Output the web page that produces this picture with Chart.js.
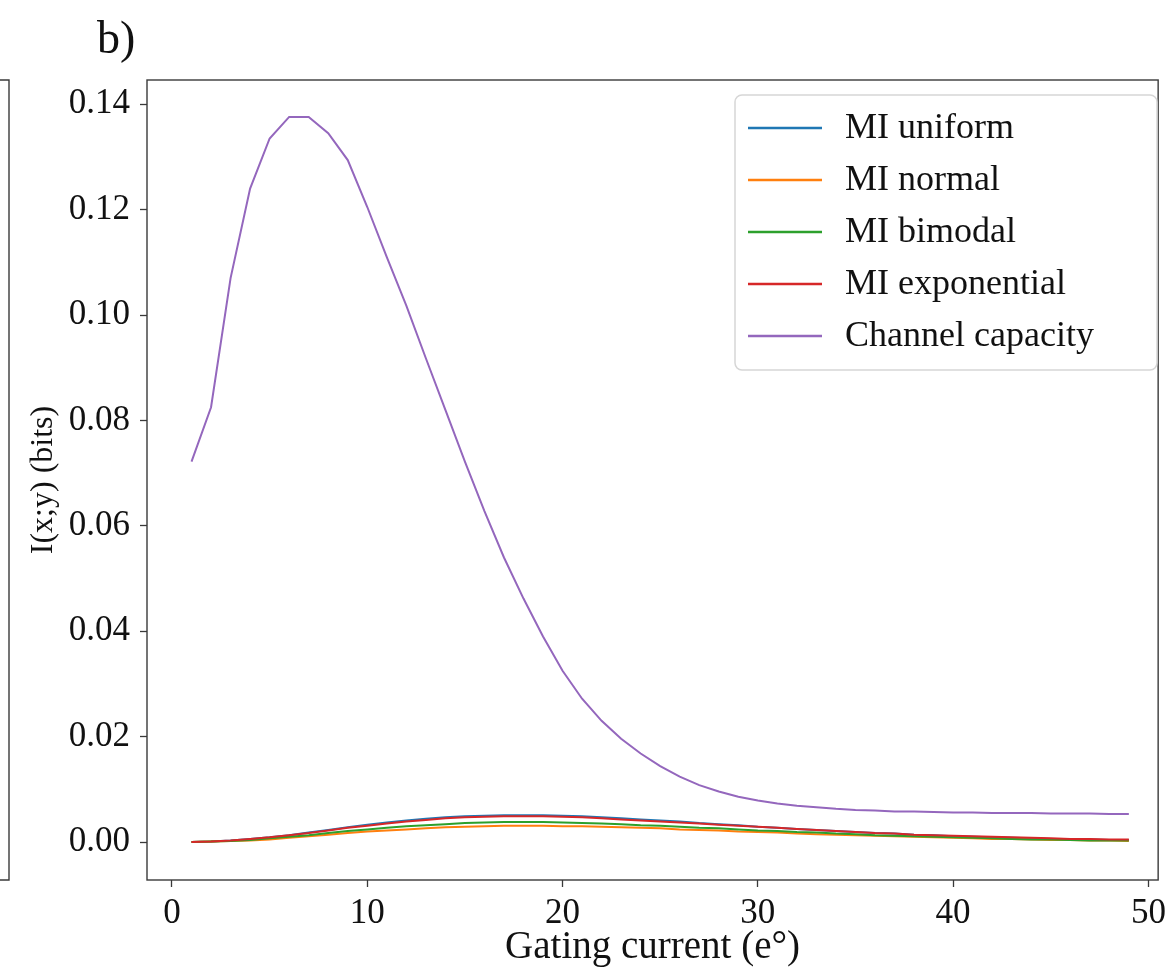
<!DOCTYPE html>
<html>
<head>
<meta charset="utf-8">
<script src="https://cdn.jsdelivr.net/npm/chart.js@4.4.1/dist/chart.umd.min.js"></script>
<style>
  html, body { margin: 0; padding: 0; background: #fff; }
  #wrap { width: 1172px; height: 973px; }
</style>
</head>
<body>
<div id="wrap"><canvas id="miChart"></canvas></div>
<script>
// gating current, e° (x values)
const gatingCurrent = [];
for (let g = 1; g <= 49; g++) gatingCurrent.push(g);

const seriesLabels = ["MI uniform", "MI normal", "MI bimodal", "MI exponential", "Channel capacity"];
const seriesColors = ["#1f77b4", "#ff7f0e", "#2ca02c", "#d62728", "#9467bd"];

const miUniform = [
    0.0000, 0.0001, 0.0003, 0.0006, 0.0009, 0.0013, 0.0018, 0.0023, 0.0028, 0.0033,
    0.0037, 0.0041, 0.0044, 0.0047, 0.0049, 0.0050, 0.0051, 0.0051, 0.0051, 0.0050,
    0.0049, 0.0047, 0.0045, 0.0043, 0.0041, 0.0039, 0.0036, 0.0034, 0.0032, 0.0029,
    0.0027, 0.0025, 0.0023, 0.0021, 0.0019, 0.0017, 0.0016, 0.0014, 0.0013, 0.0011,
    0.0010, 0.0009, 0.0008, 0.0007, 0.0006, 0.0005, 0.0005, 0.0004, 0.0004
];
const miNormal = [
    0.0000, 0.0001, 0.0002, 0.0003, 0.0005, 0.0008, 0.0011, 0.0014, 0.0017, 0.0020,
    0.0022, 0.0024, 0.0026, 0.0028, 0.0029, 0.0030, 0.0031, 0.0031, 0.0031, 0.0030,
    0.0030, 0.0029, 0.0028, 0.0027, 0.0026, 0.0024, 0.0023, 0.0022, 0.0020, 0.0019,
    0.0018, 0.0016, 0.0015, 0.0014, 0.0013, 0.0012, 0.0011, 0.0010, 0.0009, 0.0008,
    0.0007, 0.0006, 0.0006, 0.0005, 0.0004, 0.0004, 0.0003, 0.0003, 0.0002
];
const miBimodal = [
    0.0000, 0.0001, 0.0002, 0.0004, 0.0007, 0.0010, 0.0013, 0.0017, 0.0021, 0.0024,
    0.0027, 0.0030, 0.0032, 0.0034, 0.0036, 0.0037, 0.0038, 0.0038, 0.0038, 0.0037,
    0.0036, 0.0035, 0.0034, 0.0032, 0.0031, 0.0029, 0.0027, 0.0026, 0.0024, 0.0022,
    0.0021, 0.0019, 0.0018, 0.0016, 0.0015, 0.0013, 0.0012, 0.0011, 0.0010, 0.0009,
    0.0008, 0.0007, 0.0006, 0.0005, 0.0005, 0.0004, 0.0003, 0.0003, 0.0003
];
const miExponential = [
    0.0000, 0.0001, 0.0003, 0.0006, 0.0009, 0.0013, 0.0017, 0.0022, 0.0027, 0.0031,
    0.0035, 0.0039, 0.0042, 0.0045, 0.0047, 0.0048, 0.0049, 0.0049, 0.0049, 0.0048,
    0.0047, 0.0045, 0.0043, 0.0041, 0.0039, 0.0037, 0.0035, 0.0033, 0.0031, 0.0029,
    0.0027, 0.0025, 0.0023, 0.0021, 0.0019, 0.0017, 0.0016, 0.0014, 0.0013, 0.0012,
    0.0011, 0.0010, 0.0009, 0.0008, 0.0007, 0.0006, 0.0006, 0.0005, 0.0005
];
const channelCapacity = [
    0.0722, 0.0825, 0.1070, 0.1240, 0.1335, 0.1376, 0.1376, 0.1345, 0.1294, 0.1205,
    0.1110, 0.1018, 0.0918, 0.0820, 0.0722, 0.0628, 0.0540, 0.0462, 0.0390, 0.0325,
    0.0272, 0.0230, 0.0196, 0.0168, 0.0144, 0.0124, 0.0108, 0.0096, 0.0086, 0.0079,
    0.0073, 0.0069, 0.0066, 0.0063, 0.0061, 0.0060, 0.0058, 0.0058, 0.0057, 0.0056,
    0.0056, 0.0055, 0.0055, 0.0055, 0.0054, 0.0054, 0.0054, 0.0053, 0.0053
];

const xTicks = [0, 10, 20, 30, 40, 50];
const yTicks = [0.00, 0.02, 0.04, 0.06, 0.08, 0.10, 0.12, 0.14];

const SERIF = '"Liberation Serif", "Times New Roman", serif';
const allSeries = [miUniform, miNormal, miBimodal, miExponential, channelCapacity];

const datasets = allSeries.map((vals, i) => ({
    label: seriesLabels[i],
    data: vals.map((v, k) => ({ x: gatingCurrent[k], y: v })),
    borderColor: seriesColors[i],
    backgroundColor: seriesColors[i],
    borderWidth: 2,
    pointRadius: 0,
    tension: 0,
    fill: false,
    order: allSeries.length - i   // later series drawn on top, like matplotlib
}));

// frame, neighbouring panel edge, panel tag and the boxed legend
const decorations = {
    id: "decorations",
    afterDatasetsDraw(chart) {
        const { ctx, chartArea: a } = chart;
        ctx.save();
        ctx.strokeStyle = "#3a3a3a";
        ctx.lineWidth = 1.4;
        ctx.strokeRect(a.left, a.top, a.right - a.left, a.bottom - a.top);

        // right edge of panel a)
        ctx.beginPath();
        ctx.moveTo(0, a.top);
        ctx.lineTo(9, a.top);
        ctx.lineTo(9, a.bottom);
        ctx.lineTo(0, a.bottom);
        ctx.stroke();

        ctx.fillStyle = "#111";
        ctx.font = "46px " + SERIF;
        ctx.textBaseline = "alphabetic";
        ctx.textAlign = "left";
        ctx.fillText("b)", 97, 53);

        // legend
        const lx = 735, ly = 95, lw = 422, lh = 275;
        ctx.beginPath();
        ctx.roundRect(lx, ly, lw, lh, 7);
        ctx.fillStyle = "rgba(255,255,255,0.85)";
        ctx.fill();
        ctx.strokeStyle = "#d6d6d6";
        ctx.lineWidth = 1.5;
        ctx.stroke();

        ctx.font = "36px " + SERIF;
        ctx.textBaseline = "middle";
        chart.data.datasets.forEach((ds, i) => {
            const y = 128 + i * 52;
            ctx.beginPath();
            ctx.strokeStyle = ds.borderColor;
            ctx.lineWidth = 2.5;
            ctx.moveTo(748, y);
            ctx.lineTo(822, y);
            ctx.stroke();
            ctx.fillStyle = "#111";
            ctx.fillText(ds.label, 845, y + 1);
        });
        ctx.restore();
    }
};

new Chart(document.getElementById("miChart"), {
    type: "line",
    data: { datasets },
    plugins: [decorations],
    options: {
        responsive: true,
        maintainAspectRatio: false,
        animation: false,
        layout: { padding: { left: 0, top: 80, right: 12, bottom: 0 } },
        plugins: {
            legend: { display: false },
            tooltip: { enabled: false }
        },
        scales: {
            x: {
                type: "linear",
                min: -1.28,
                max: 50.5,
                afterFit: (scale) => { scale.height = 93; },
                afterBuildTicks: (scale) => { scale.ticks = xTicks.map(v => ({ value: v })); },
                grid: { drawOnChartArea: false, drawTicks: true, tickLength: 7, color: "#3a3a3a", tickWidth: 1.3 },
                border: { display: false },
                ticks: {
                    color: "#111",
                    padding: 6,
                    maxRotation: 0,
                    font: { family: SERIF, size: 35 },
                    callback: (v) => String(v)
                },
                title: {
                    display: true,
                    text: "Gating current (e°)",
                    color: "#111",
                    font: { family: SERIF, size: 39 },
                    padding: { top: 0, bottom: 2 }
                }
            },
            y: {
                type: "linear",
                min: -0.0072,
                max: 0.1446,
                afterFit: (scale) => { scale.width = 147; },
                afterBuildTicks: (scale) => { scale.ticks = yTicks.map(v => ({ value: v })); },
                grid: { drawOnChartArea: false, drawTicks: true, tickLength: 7, color: "#3a3a3a", tickWidth: 1.3 },
                border: { display: false },
                ticks: {
                    color: "#111",
                    padding: 10,
                    font: { family: SERIF, size: 35 },
                    callback: (v) => Number(v).toFixed(2)
                },
                title: {
                    display: true,
                    text: "I(x;y) (bits)",
                    color: "#111",
                    font: { family: SERIF, size: 32 },
                    padding: { top: 24, bottom: 0 }
                }
            }
        }
    }
});
</script>
</body>
</html>
